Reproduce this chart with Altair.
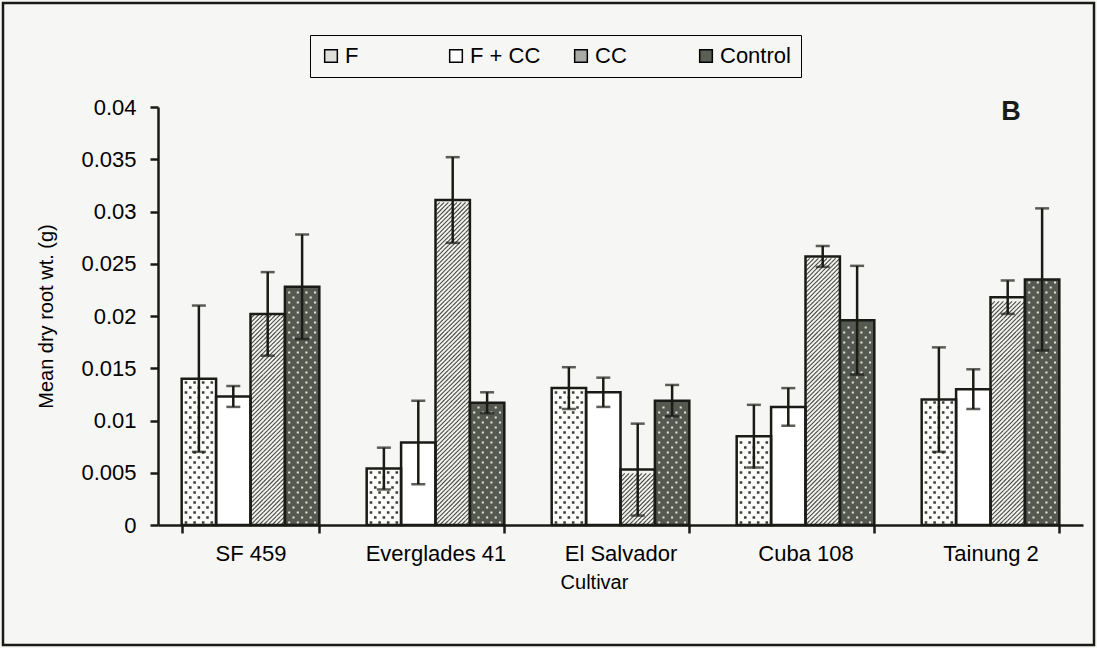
import altair as alt
import pandas as pd
import numpy as np

# ---------------- data ----------------
cultivars = ["SF 459", "Everglades 41", "El Salvador", "Cuba 108", "Tainung 2"]
series = ["F", "F + CC", "CC", "Control"]

mean_F = [0.0140, 0.0054, 0.0131, 0.0085, 0.0120]
mean_FCC = [0.0123, 0.0079, 0.0127, 0.0113, 0.0130]
mean_CC = [0.0202, 0.0311, 0.0053, 0.0257, 0.0218]
mean_Control = [0.0228, 0.0117, 0.0119, 0.0196, 0.0235]

err_F = [0.0070, 0.0020, 0.0020, 0.0030, 0.0050]
err_FCC = [0.0010, 0.0040, 0.0014, 0.0018, 0.0019]
err_CC = [0.0040, 0.0041, 0.0044, 0.0010, 0.0016]
err_Control = [0.0050, 0.0010, 0.0015, 0.0052, 0.0068]

y_ticks = [0, 0.005, 0.01, 0.015, 0.02, 0.025, 0.03, 0.035, 0.04]

# ---------------- styling ----------------
FONT = "Liberation Sans"
BG = "#f6f6f4"
INK = "#1a1a16"
legend_tones = ["#dededa", "#ffffff", "#a9a9a5", "#5c5f56"]   # legend swatches
base_tones = ["#fbfbf9", "#ffffff", "#f2f2ef", "#565950"]      # bar ground under texture

W, H = 925, 418
PAD_IN, PAD_OUT = 0.256, 0.128
px_per_unit = H / 0.04
bar_px = (W / 5) * (1 - PAD_IN) / 4
shape_size = bar_px ** 2

# ---------------- tables ----------------
means = {"F": mean_F, "F + CC": mean_FCC, "CC": mean_CC, "Control": mean_Control}
errs = {"F": err_F, "F + CC": err_FCC, "CC": err_CC, "Control": err_Control}
rows = []
for s in series:
    for c, m, e in zip(cultivars, means[s], errs[s]):
        rows.append({"Cultivar": c, "Series": s, "mean": m, "lo": m - e, "hi": m + e})
df = pd.DataFrame(rows)

# texture rows (derived from bar heights)
hatch_step = (bar_px / 8) / px_per_unit
dot_step = 5.0 / px_per_unit
tex = []
for _, r in df.iterrows():
    if r["Series"] == "CC":
        k = 0
        while (k + 1) * hatch_step <= r["mean"]:
            tex.append({"Cultivar": r["Cultivar"], "Series": "CC", "y": (k + 0.5) * hatch_step, "kind": "hatch"})
            k += 1
    elif r["Series"] in ("F", "Control"):
        k = 0
        while (k + 1) * dot_step <= r["mean"]:
            tag = "f" if r["Series"] == "F" else "c"
            tex.append({"Cultivar": r["Cultivar"], "Series": r["Series"], "y": (k + 0.5) * dot_step,
                        "kind": f"{tag}{k % 2}"})
            k += 1
tex = pd.DataFrame(tex)

# custom symbol paths (unit square -1..1 spans the bar width)
hh = (bar_px / 8) / (bar_px / 2) / 2
hatch_path = " ".join(f"M{x0:.3f},{hh:.3f}L{x0 + 0.25:.3f},{-hh:.3f}" for x0 in np.arange(-1, 1, 0.25))


def dots(xs, d):
    return " ".join(f"M{x - d:.3f},{-d:.3f}h{2 * d:.3f}v{2 * d:.3f}h{-2 * d:.3f}Z" for x in xs)


row_a = [-0.75, -0.25, 0.25, 0.75]
row_b = [-0.5, 0.0, 0.5]

x_enc = alt.X("Cultivar:N", scale=alt.Scale(domain=cultivars, paddingInner=PAD_IN, paddingOuter=PAD_OUT),
              title="Cultivar",
              axis=alt.Axis(tickBand="extent", labelFontSize=22, labelPadding=10, titleFontSize=20,
                            titlePadding=8, tickSize=8, labelAngle=0, titleX=436, titleAlign="center"))
xo_enc = alt.XOffset("Series:N", scale=alt.Scale(domain=series, paddingInner=0, paddingOuter=0))
y_scale = alt.Scale(domain=[0, 0.04], nice=False, zero=True)
y_enc = alt.Y("mean:Q", scale=y_scale, title="Mean dry root wt. (g)",
              axis=alt.Axis(values=y_ticks, format=".3~f", labelFontSize=22, labelPadding=14, tickSize=8,
                            titleFontSize=20, titleX=-112, titleY=209, titleAngle=-90, titleAlign="center",
                            titleBaseline="middle", grid=False))

base = alt.Chart(df)

legend_bars = base.mark_bar(strokeWidth=0).encode(
    x=x_enc, xOffset=xo_enc, y=y_enc,
    color=alt.Color("Series:N", scale=alt.Scale(domain=series, range=legend_tones),
                    legend=alt.Legend(title=None, orient="none", legendX=152, legendY=-72,
                                      direction="horizontal", columns=4, columnPadding=29,
                                      gridAlign="all",
                                      labelFontSize=22, labelFont=FONT, labelColor="black",
                                      labelOffset=3, symbolType="square", symbolSize=160,
                                      symbolStrokeColor="black", symbolStrokeWidth=1.5,
                                      strokeColor="black", padding=10, fillColor=BG)),
)

ground_bars = base.mark_bar(strokeWidth=0).encode(
    x=x_enc, xOffset=xo_enc, y=y_enc,
    fill=alt.Fill("Series:N", scale=alt.Scale(domain=series, range=base_tones), legend=None),
)

tex_base = alt.Chart(tex).encode(
    x=alt.X("Cultivar:N"), xOffset=alt.XOffset("Series:N"), y=alt.Y("y:Q"),
)

hatch = tex_base.transform_filter("datum.kind == 'hatch'").mark_point(
    shape=hatch_path, size=shape_size, filled=False, stroke="#4a4a46", strokeWidth=1.1, opacity=1)
f0 = tex_base.transform_filter("datum.kind == 'f0'").mark_point(
    shape=dots(row_a, 0.075), size=shape_size, filled=True, color="#3c3c38", strokeWidth=0, opacity=1)
f1 = tex_base.transform_filter("datum.kind == 'f1'").mark_point(
    shape=dots(row_b, 0.075), size=shape_size, filled=True, color="#3c3c38", strokeWidth=0, opacity=1)
c0 = tex_base.transform_filter("datum.kind == 'c0'").mark_point(
    shape=dots(row_a, 0.06), size=shape_size, filled=True, color="#e4e4dc", strokeWidth=0, opacity=1)
c1 = tex_base.transform_filter("datum.kind == 'c1'").mark_point(
    shape=dots(row_b, 0.06), size=shape_size, filled=True, color="#e4e4dc", strokeWidth=0, opacity=1)

outline = base.mark_bar(fillOpacity=0, stroke=INK, strokeWidth=2.5).encode(
    x=x_enc, xOffset=xo_enc, y=y_enc)

err_rule = base.mark_rule(color=INK, strokeWidth=2.5).encode(
    x=x_enc, xOffset=xo_enc, y=alt.Y("lo:Q"), y2="hi:Q")
cap_lo = base.mark_tick(color=INK, thickness=2.5, size=14, orient="horizontal").encode(
    x=x_enc, xOffset=xo_enc, y=alt.Y("lo:Q"))
cap_hi = base.mark_tick(color=INK, thickness=2.5, size=14, orient="horizontal").encode(
    x=x_enc, xOffset=xo_enc, y=alt.Y("hi:Q"))

one = pd.DataFrame({"k": [0]})
frame = alt.Chart(one).mark_rect(fillOpacity=0, stroke=INK, strokeWidth=2.5).encode(
    x=alt.value(-155), x2=alt.value(936), y=alt.value(-104), y2=alt.value(538))
panel = alt.Chart(pd.DataFrame({"t": ["B"]})).mark_text(
    font=FONT, fontSize=27, fontWeight="bold", color=INK, align="center", baseline="middle").encode(
    x=alt.value(853), y=alt.value(5), text="t:N")

chart = alt.layer(
    legend_bars, ground_bars, hatch, f0, f1, c0, c1, outline, err_rule, cap_lo, cap_hi, frame, panel
).properties(
    width=W, height=H,
    autosize=alt.AutoSizeParams(type="none"),
    padding={"left": 158, "top": 107, "right": 14, "bottom": 123},
    background=BG,
).configure_view(stroke=None).configure_axis(
    labelFont=FONT, titleFont=FONT, labelColor="black", titleColor="black",
    domainColor=INK, domainWidth=2.5, tickColor=INK, tickWidth=2.5, titleFontWeight="normal",
).configure_legend(labelFont=FONT)

chart.save("out.html", embed_options={"renderer": "svg", "actions": False})
